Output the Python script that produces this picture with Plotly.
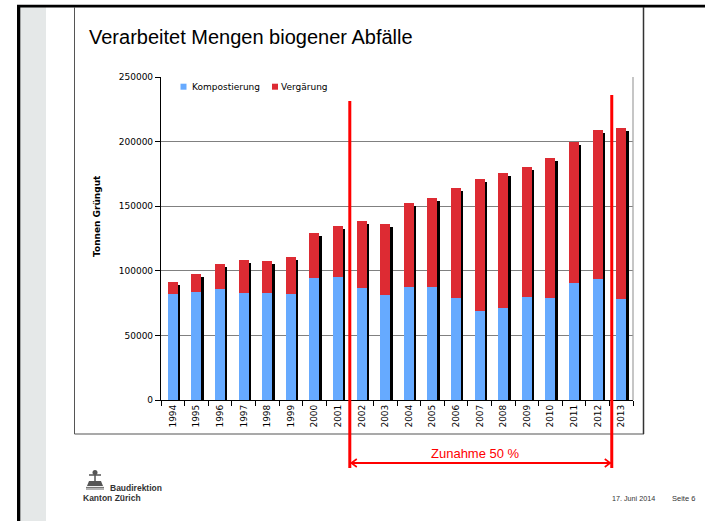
import plotly.graph_objects as go

# ---------------- data ----------------
years = [str(y) for y in range(1994, 2014)]
kompostierung = [82200, 83500, 86300, 82700, 82700, 82400, 94800, 95000, 86600, 80900,
                 87600, 87300, 79300, 69100, 71100, 79900, 79300, 90900, 94000, 77800]
vergaerung = [9000, 13900, 19300, 25500, 24900, 28300, 34200, 39600, 52100, 55300,
              64500, 69000, 84900, 101800, 104400, 100500, 107800, 108800, 115200, 133000]
y_ticks = [0, 50000, 100000, 150000, 200000, 250000]
label_2002 = "139 000"
label_2012 = "209 000"

totals = [k + v for k, v in zip(kompostierung, vergaerung)]

# ---------------- geometry helpers (plot-area pixel -> paper) ----------------
W_FIG, H_FIG = 705, 521
L, R, T, B = 161, 633, 77, 400
PW, PH = R - L, B - T


def px(x):
    return (x - L) / PW


def py(y):
    return (B - y) / PH


BLUE = "#66aaff"
RED = "#dd2b33"
BW = 0.42
SHADOW_DX = 0.1
SHADOW_DY = 2300

ARIAL = "Liberation Sans, Arial, sans-serif"
VERDANA = "DejaVu Sans, Verdana, sans-serif"

fig = go.Figure()

# shadow
fig.add_trace(go.Bar(x=years, y=[t - SHADOW_DY for t in totals], base=0,
                     width=BW, offset=-BW / 2 + SHADOW_DX,
                     marker=dict(color="#000000", line=dict(width=0)),
                     showlegend=False, hoverinfo="skip"))
fig.add_trace(go.Bar(x=years, y=kompostierung, base=0, name="Kompostierung",
                     width=BW, offset=-BW / 2,
                     marker=dict(color=BLUE, line=dict(width=0)), showlegend=False))
fig.add_trace(go.Bar(x=years, y=vergaerung, base=kompostierung, name="Vergärung",
                     width=BW, offset=-BW / 2,
                     marker=dict(color=RED, line=dict(width=0)), showlegend=False))

shapes = []
# slide decoration
shapes.append(dict(type="rect", xref="paper", yref="paper", x0=px(20), x1=px(46),
                   y0=py(7), y1=py(521), fillcolor="#e5e8e8", line=dict(width=0), layer="below"))
shapes.append(dict(type="rect", xref="paper", yref="paper", x0=px(17), x1=px(20.3),
                   y0=py(5), y1=py(521), fillcolor="#000000", line=dict(width=0)))
shapes.append(dict(type="rect", xref="paper", yref="paper", x0=px(17), x1=px(705),
                   y0=py(4.8), y1=py(7.4), fillcolor="#000000", line=dict(width=0)))
shapes.append(dict(type="line", xref="paper", yref="paper", x0=px(74.5), x1=px(74.5),
                   y0=py(7), y1=py(434), line=dict(color="#555555", width=1)))
shapes.append(dict(type="line", xref="paper", yref="paper", x0=px(74.5), x1=px(644),
                   y0=py(434), y1=py(434), line=dict(color="#555555", width=1.2)))
shapes.append(dict(type="line", xref="paper", yref="paper", x0=px(643.5), x1=px(643.5),
                   y0=py(7), y1=py(434), line=dict(color="#333333", width=1.5)))
# plot area right border
shapes.append(dict(type="line", xref="paper", yref="paper", x0=1, x1=1,
                   y0=0, y1=1, line=dict(color="#a0a0a0", width=1.2)))

# legend (manual)
shapes.append(dict(type="rect", xref="paper", yref="paper", x0=px(180.5), x1=px(186.5),
                   y0=py(89.7), y1=py(83.7), fillcolor=BLUE, line=dict(width=0)))
shapes.append(dict(type="rect", xref="paper", yref="paper", x0=px(272), x1=px(278),
                   y0=py(89.7), y1=py(83.7), fillcolor=RED, line=dict(width=0)))

# red markers 2002 / 2013
X_A, X_B = 7.5, 18.6
shapes.append(dict(type="line", xref="x", yref="paper", x0=X_A, x1=X_A,
                   y0=py(468), y1=py(101), line=dict(color="#ff0000", width=3)))
shapes.append(dict(type="line", xref="x", yref="paper", x0=X_B, x1=X_B,
                   y0=py(468), y1=py(95), line=dict(color="#ff0000", width=3)))
shapes.append(dict(type="line", xref="x", yref="paper", x0=X_A, x1=X_B,
                   y0=py(463), y1=py(463), line=dict(color="#ff0000", width=2)))
shapes.append(dict(type="path", xref="x", yref="paper", xsizemode="pixel", ysizemode="pixel",
                   xanchor=X_A, yanchor=py(463), path="M 7,4 L 1.5,0 L 7,-4",
                   line=dict(color="#ff0000", width=1.6)))
shapes.append(dict(type="path", xref="x", yref="paper", xsizemode="pixel", ysizemode="pixel",
                   xanchor=X_B, yanchor=py(463), path="M -7,4 L -1.5,0 L -7,-4",
                   line=dict(color="#ff0000", width=1.6)))

# logo approximation
shapes.append(dict(type="path", xref="paper", yref="paper", xsizemode="pixel", ysizemode="pixel",
                   xanchor=px(86), yanchor=py(490),
                   path="M 1,4 L 17,4 L 15,9 L 3,9 Z", fillcolor="#555555", line=dict(width=0)))
for yy in (1, 2.6):
    shapes.append(dict(type="line", xref="paper", yref="paper", xsizemode="pixel", ysizemode="pixel",
                       xanchor=px(86), yanchor=py(490), x0=0, x1=18, y0=yy, y1=yy,
                       line=dict(color="#666666", width=1)))
shapes.append(dict(type="line", xref="paper", yref="paper", xsizemode="pixel", ysizemode="pixel",
                   xanchor=px(86), yanchor=py(490), x0=9, x1=9, y0=9, y1=19,
                   line=dict(color="#555555", width=1.5)))
shapes.append(dict(type="circle", xref="paper", yref="paper", xsizemode="pixel", ysizemode="pixel",
                   xanchor=px(86), yanchor=py(490), x0=6.5, x1=11.5, y0=15, y1=20,
                   fillcolor="#555555", line=dict(width=0)))
shapes.append(dict(type="line", xref="paper", yref="paper", xsizemode="pixel", ysizemode="pixel",
                   xanchor=px(86), yanchor=py(490), x0=3, x1=15, y0=15, y1=15,
                   line=dict(color="#555555", width=1.5)))

annotations = []
annotations.append(dict(text="Verarbeitet Mengen biogener Abfälle", xref="paper", yref="paper",
                        x=px(87), y=py(37), xanchor="left", yanchor="middle", showarrow=False,
                        font=dict(family=ARIAL, size=20, color="#000000")))
annotations.append(dict(text="Kompostierung", xref="paper", yref="paper",
                        x=px(189.5), y=py(86.7), xanchor="left", yanchor="middle", showarrow=False,
                        font=dict(family=VERDANA, size=9, color="#000000")))
annotations.append(dict(text="Vergärung", xref="paper", yref="paper",
                        x=px(278.5), y=py(86.7), xanchor="left", yanchor="middle", showarrow=False,
                        font=dict(family=VERDANA, size=9, color="#000000")))
annotations.append(dict(text="Tonnen Grüngut", xref="paper", yref="paper", textangle=-90,
                        x=px(97), y=py(216), xanchor="center", yanchor="middle", showarrow=False,
                        font=dict(family="DejaVu Sans", size=9, color="#000000", weight="bold")))
annotations.append(dict(text=label_2002, xref="x", yref="paper", textangle=-90,
                        x=years[8], y=py(178), xanchor="center", yanchor="middle", showarrow=False,
                        font=dict(family=ARIAL, size=13, color="#000000")))
annotations.append(dict(text=label_2012, xref="x", yref="paper", textangle=-90,
                        x=years[18], y=py(102), xanchor="center", yanchor="middle", showarrow=False,
                        font=dict(family=ARIAL, size=13, color="#000000")))
annotations.append(dict(text="Zunahme 50 %", xref="paper", yref="paper",
                        x=px(475), y=py(453), xanchor="center", yanchor="middle", showarrow=False,
                        font=dict(family=ARIAL, size=13, color="#ff0000")))
annotations.append(dict(text="Baudirektion", xref="paper", yref="paper",
                        x=px(107.5), y=py(488), xanchor="left", yanchor="middle", showarrow=False,
                        font=dict(family=ARIAL, size=8.5, color="#333333", weight="bold")))
annotations.append(dict(text="Kanton Zürich", xref="paper", yref="paper",
                        x=px(80.5), y=py(497.5), xanchor="left", yanchor="middle", showarrow=False,
                        font=dict(family=ARIAL, size=8.5, color="#333333", weight="bold")))
annotations.append(dict(text="17. Juni 2014", xref="paper", yref="paper",
                        x=px(657), y=py(498), xanchor="right", yanchor="middle", showarrow=False,
                        font=dict(family=ARIAL, size=7.2, color="#333333")))
annotations.append(dict(text="Seite 6", xref="paper", yref="paper",
                        x=px(697), y=py(498), xanchor="right", yanchor="middle", showarrow=False,
                        font=dict(family=ARIAL, size=7.5, color="#333333")))

fig.update_layout(
    width=W_FIG, height=H_FIG,
    margin=dict(l=L, r=W_FIG - R, t=T, b=H_FIG - B, pad=0),
    paper_bgcolor="#ffffff", plot_bgcolor="#ffffff",
    barmode="overlay", bargap=0,
    showlegend=False,
    shapes=shapes, annotations=annotations,
    xaxis=dict(type="category", range=[-0.5, 19.5], tickson="boundaries",
               ticks="outside", ticklen=5, tickcolor="#000000", tickwidth=1,
               showline=True, linecolor="#000000", linewidth=1.2,
               showgrid=False, tickangle=-90,
               tickfont=dict(family=VERDANA, size=9, color="#000000")),
    yaxis=dict(range=[0, 250000], tickvals=y_ticks, tickformat="d",
               ticks="outside", ticklen=5, tickcolor="#000000", tickwidth=1,
               showline=True, linecolor="#000000", linewidth=1.2,
               showgrid=True, gridcolor="#808080", gridwidth=1, zeroline=False,
               tickfont=dict(family=VERDANA, size=9, color="#000000")),
)

fig.write_html("out.html", config={"displayModeBar": False},
               post_script="document.body.style.margin='0px';document.body.style.overflow='hidden';")
